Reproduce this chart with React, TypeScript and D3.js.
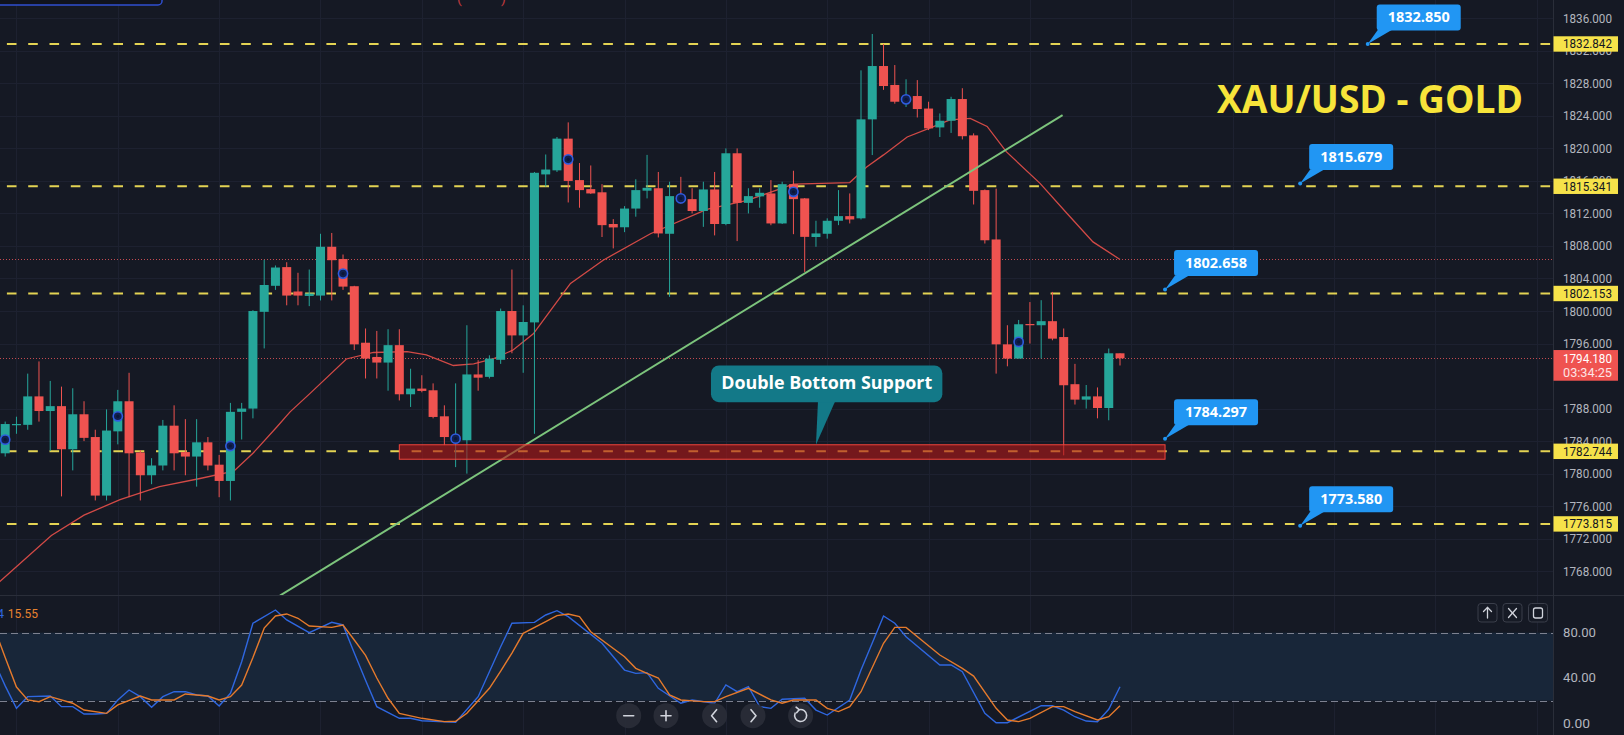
import React from 'react';
import * as d3 from 'd3';

const W = 1624;
const H = 735;

// ---------- candle data (index 0..99) ----------
const opens = [
  1782.5, 1786.0, 1786.0, 1789.5, 1787.7, 1788.3, 1783.0, 1787.3, 1784.5, 1777.3,
  1785.2, 1788.9, 1782.6, 1779.8, 1781.0, 1785.9, 1782.65, 1782.1, 1783.85, 1781.1,
  1779.1, 1787.6, 1788.0, 1799.9, 1803.1, 1805.4, 1802.4, 1801.85, 1801.9, 1807.9,
  1806.4, 1803.05, 1796.1, 1794.35, 1793.66, 1795.8, 1789.76, 1790.46, 1790.25, 1787.05,
  1784.3, 1784.1, 1792.2, 1791.9, 1794.0, 1800.0, 1797.0, 1798.6, 1816.8, 1817.3,
  1821.2, 1816.1, 1814.99, 1814.6, 1810.7, 1810.3, 1812.6, 1814.8, 1815.1, 1809.5,
  1814.2, 1813.76, 1812.3, 1814.95, 1810.7, 1819.4, 1813.3, 1814.1, 1814.46, 1810.77,
  1815.6, 1813.85, 1809.1, 1809.5, 1811.1, 1811.67, 1811.4, 1823.57, 1830.13, 1827.8,
  1825.7, 1826.44, 1824.9, 1822.58, 1823.4, 1826.07, 1821.6, 1814.87, 1808.8, 1795.9,
  1794.15, 1798.4, 1798.25, 1798.75, 1796.8, 1791.0, 1789.1, 1789.5, 1788.07, 1794.8,
];
const highs = [
  1786.4, 1787.0, 1792.3, 1793.8, 1791.4, 1790.7, 1790.5, 1788.9, 1785.4, 1787.9,
  1790.3, 1792.4, 1782.9, 1781.9, 1786.6, 1788.4, 1786.7, 1786.7, 1784.5, 1782.3,
  1788.7, 1788.7, 1800.1, 1806.3, 1805.6, 1806.0, 1804.7, 1805.1, 1809.5, 1809.6,
  1806.95, 1803.1, 1797.85, 1797.55, 1797.76, 1797.76, 1792.9, 1792.1, 1791.1, 1788.4,
  1791.1, 1798.25, 1793.95, 1794.55, 1800.3, 1805.1, 1800.7, 1817.1, 1819.25, 1821.4,
  1823.2, 1818.2, 1817.9, 1815.6, 1811.3, 1812.9, 1816.2, 1819.2, 1817.1, 1815.9,
  1816.5, 1815.1, 1815.9, 1817.1, 1820.0, 1820.0, 1815.1, 1815.1, 1816.1, 1815.9,
  1817.25, 1813.9, 1811.1, 1811.4, 1814.87, 1814.46, 1829.6, 1834.07, 1832.84, 1830.25,
  1828.5, 1828.4, 1825.74, 1824.3, 1826.35, 1827.4, 1821.85, 1814.95, 1815.05, 1798.25,
  1798.9, 1801.1, 1801.33, 1802.35, 1797.85, 1793.5, 1790.9, 1790.6, 1795.38, 1794.8,
];
const lows = [
  1782.1, 1784.9, 1785.4, 1786.4, 1782.8, 1777.2, 1780.4, 1784.0, 1776.7, 1776.7,
  1783.6, 1777.1, 1776.7, 1778.7, 1780.4, 1780.4, 1779.8, 1778.4, 1780.4, 1777.1,
  1776.7, 1784.2, 1786.8, 1795.4, 1802.6, 1800.7, 1800.7, 1800.6, 1801.3, 1801.3,
  1802.6, 1795.2, 1791.7, 1791.7, 1790.2, 1789.0, 1788.2, 1790.0, 1786.8, 1783.5,
  1780.8, 1780.0, 1790.2, 1791.7, 1793.5, 1794.8, 1792.4, 1784.9, 1815.3, 1817.1,
  1813.35, 1812.7, 1814.4, 1809.1, 1807.7, 1809.7, 1811.6, 1813.85, 1809.05, 1801.74,
  1813.2, 1812.0, 1810.35, 1809.3, 1810.55, 1808.6, 1812.0, 1812.7, 1810.55, 1810.7,
  1809.45, 1804.8, 1807.9, 1808.9, 1810.56, 1810.77, 1811.26, 1819.18, 1827.2, 1825.5,
  1825.1, 1823.8, 1822.25, 1821.4, 1821.9, 1821.1, 1813.1, 1808.3, 1792.3, 1793.2,
  1794.15, 1796.0, 1794.15, 1796.4, 1782.25, 1788.5, 1788.0, 1786.8, 1786.56, 1793.3,
];
const closes = [
  1786.1, 1786.1, 1789.5, 1787.7, 1788.3, 1783.0, 1787.3, 1784.4, 1777.3, 1785.3,
  1788.9, 1782.5, 1779.8, 1781.0, 1785.9, 1782.5, 1782.1, 1783.85, 1781.0, 1779.1,
  1787.6, 1788.0, 1800.0, 1803.2, 1805.35, 1801.9, 1801.9, 1802.15, 1807.9, 1806.25,
  1803.0, 1795.9, 1794.15, 1793.66, 1795.8, 1789.76, 1790.46, 1790.17, 1786.97, 1784.5,
  1784.5, 1792.2, 1791.8, 1794.15, 1800.0, 1797.0, 1798.65, 1817.0, 1817.4, 1821.2,
  1816.0, 1814.87, 1814.46, 1810.56, 1810.28, 1812.6, 1814.87, 1815.15, 1809.54, 1814.13,
  1813.8, 1812.3, 1814.95, 1810.7, 1819.4, 1813.3, 1814.13, 1814.54, 1810.77, 1815.6,
  1813.76, 1809.12, 1809.54, 1811.1, 1811.67, 1811.26, 1823.57, 1830.13, 1827.67, 1825.74,
  1826.0, 1824.84, 1822.46, 1823.4, 1826.07, 1821.5, 1814.78, 1808.7, 1795.9, 1794.15,
  1798.37, 1798.3, 1798.75, 1796.6, 1790.87, 1789.1, 1789.5, 1788.07, 1794.8, 1794.18,
];

// markers drawn every tenth candle (index, price)
const markerIndex = [0, 10, 20, 30, 40, 50, 60, 70, 80, 90];
const markerPrice = [1784.18, 1787.05, 1783.4, 1804.6, 1784.3, 1818.65, 1813.85, 1814.66, 1826.03, 1796.2];

// moving average: [index, price]
const maLine: [number, number][] = [
  [-0.5, 1766.7], [4.1, 1772.4], [7.0, 1774.9], [10.2, 1776.8], [13.7, 1778.4], [17.3, 1779.4],
  [20.3, 1780.3], [22.0, 1782.5], [24.1, 1785.7], [25.3, 1787.6], [27.1, 1789.9], [30.3, 1794.1],
  [32.7, 1794.9], [35.7, 1795.0], [37.4, 1794.6], [39.8, 1793.3], [41.6, 1793.5], [43.3, 1794.1],
  [45.1, 1795.2], [46.9, 1797.2], [48.5, 1800.2], [50.2, 1803.4], [53.1, 1806.25], [57.3, 1809.5],
  [62.3, 1812.5], [65.9, 1813.6], [70.0, 1815.6], [75.0, 1815.8], [76.5, 1817.7], [78.0, 1819.2],
  [80.1, 1821.4], [82.1, 1822.5], [83.9, 1823.5], [85.7, 1823.7], [87.2, 1822.7], [88.9, 1819.6],
  [91.9, 1815.7], [94.3, 1812.0], [96.6, 1808.5], [99.0, 1806.34],
];

// stochastic %K (blue) and %D (orange): [index, value]
const stochK: [number, number][] = [
  [-1, 55], [0, 33], [1, 13.2], [2, 23.5], [4, 24.1], [5, 14.7], [6, 14.7], [7, 8.2], [8, 8.2], [9, 8.8],
  [10, 20.6], [11, 29.4], [12, 23.5], [13, 14.1], [14, 23.5], [15, 27.9], [16, 27.9], [17, 25], [18, 24.1],
  [19, 15.3], [20, 26.5], [21, 54.4], [22, 88.3], [24, 100], [25, 91.2], [27, 80], [29, 89.1], [30, 86.8],
  [31, 62], [32, 38], [33, 14.7], [35, 4.4], [36, 4.4], [37, 2.3], [40, 0.9], [42, 23.5], [44, 67.6],
  [45, 88.3], [47, 89.1], [48, 95.6], [49, 99.4], [50, 94.1], [53, 70.6], [55, 47], [56, 44.1], [57, 44.7],
  [58, 30.9], [60, 17.7], [61, 20.6], [63, 17.7], [64, 33.8], [65, 27.9], [66, 32.3], [67, 14.7], [68, 13.2],
  [69, 21.2], [71, 22.1], [72, 11.7], [73, 7.3], [75, 20.6], [76, 47], [78, 94.7], [79, 88.3], [80, 76.4],
  [83, 51.5], [84, 51.5], [85, 45.5], [87, 8.8], [88, 0.5], [89, 0.5], [92, 15.5], [93, 15.5], [94, 11.7],
  [95, 5.8], [96, 2], [97, 1.4], [98, 12.4], [99, 32.3],
];
const stochD: [number, number][] = [
  [-1, 85], [0, 58], [1, 32], [2, 20.6], [3, 19.1], [4, 23.5], [6, 17.7], [7, 11.7], [9, 8.8], [10, 16.2],
  [12, 24.1], [13, 20.6], [15, 20.6], [16, 25.9], [18, 24.1], [19, 20.6], [20, 23.5], [21, 33.8], [22, 58],
  [23, 84], [24, 94.7], [25, 96.5], [26, 92.7], [27, 85.9], [29, 84.7], [30, 86.8], [31, 73.5], [32, 60],
  [33, 40], [34, 22.1], [35, 8.8], [37, 4.4], [39, 1.5], [40, 1.8], [41, 8.8], [43, 30.9], [44, 46], [45, 62],
  [46, 79.4], [48, 89.7], [49, 95], [50, 96.5], [51, 94.1], [52, 80.8], [55, 58.8], [56, 48.5], [57, 44],
  [58, 40], [59, 25], [60, 20.6], [62, 19.1], [63, 19.1], [64, 23.5], [66, 30.9], [68, 20.6], [69, 17.7],
  [70, 20.6], [72, 20.6], [73, 13.2], [74, 10.3], [75, 14.7], [76, 27.9], [78, 70.6], [79, 84.7], [80, 84.7],
  [83, 60.3], [85, 48.5], [86, 41.7], [88, 13.2], [89, 2.9], [90, 1.5], [91, 4.4], [93, 14.7], [94, 14.7],
  [95, 10.3], [97, 2.9], [98, 5.8], [99, 15.55],
];

const priceTicks = [1768, 1772, 1776, 1780, 1784, 1788, 1796, 1800, 1804, 1808, 1812, 1816, 1820, 1824, 1828, 1832, 1836];
const stochTicks = [80, 40, 0];
const levelPrices = [1832.842, 1815.341, 1802.153, 1782.744, 1773.815];
const calloutValues = [1832.85, 1815.679, 1802.658, 1784.297, 1773.58];
const calloutIndex = [121, 115, 103, 103, 115];
const supportZone = { from: 35, to: 103, top: 1783.55, bottom: 1781.77 };
const trend = { i0: 24.4, p0: 1765.0, i1: 93.9, p1: 1824.1 };
const currentPrice = 1794.18;
const maLast = 1806.34;
const countdown = '03:34:25';
const gridIndex = d3.range(1, 140, 9);

const BG = '#151924';
const UP = '#26a69a';
const DOWN = '#ef5350';

export default function App() {
  const plotRight = 1553;
  const split = 595;
  const x = d3.scaleLinear().domain([0, 99]).range([5.2, 1120]);
  const y = d3.scaleLinear().domain([1768, 1836]).range([571.2, 18.3]);
  const ys = d3.scaleLinear().domain([0, 100]).range([723.3, 610]);

  const maPath = d3.line<[number, number]>().x((d) => x(d[0])).y((d) => y(d[1]))(maLine) || '';
  const kPath = d3.line<[number, number]>().x((d) => x(d[0])).y((d) => ys(d[1]))(stochK) || '';
  const dPath = d3.line<[number, number]>().x((d) => x(d[0])).y((d) => ys(d[1]))(stochD) || '';

  const bodyW = 9;
  const axisFont = 'Roboto, "Liberation Sans", sans-serif';
  const boldFont = '"Open Sans", "Noto Sans", sans-serif';

  const ddTipX = x(72);
  const ddTipY = y(supportZone.top);

  const navX = [628.7, 666, 714.6, 753, 800.6];
  const navY = 715.7;

  return (
    <svg
      width={W}
      height={H}
      viewBox={`0 0 ${W} ${H}`}
      style={{ position: 'fixed', left: 0, top: 0, background: BG, display: 'block' }}
    >
      <defs>
        <clipPath id="mainClip">
          <rect x={0} y={0} width={plotRight} height={split} />
        </clipPath>
        <clipPath id="stochClip">
          <rect x={0} y={split + 1} width={plotRight} height={H - split - 1} />
        </clipPath>
      </defs>
      <rect x={0} y={0} width={W} height={H} fill={BG} />

      {/* grid */}
      <g stroke="#1d2130" strokeWidth={1}>
        {gridIndex.filter((i) => x(i) < plotRight).map((i) => (
          <line key={'vg' + i} x1={Math.round(x(i)) + 0.5} x2={Math.round(x(i)) + 0.5} y1={0} y2={H} />
        ))}
        {priceTicks.map((t) => (
          <line key={'hg' + t} x1={0} x2={plotRight} y1={Math.round(y(t)) + 0.5} y2={Math.round(y(t)) + 0.5} />
        ))}
      </g>

      {/* main pane */}
      <g clipPath="url(#mainClip)">
        {levelPrices.map((p) => (
          <line key={'lv' + p} x1={6.9} x2={plotRight} y1={y(p)} y2={y(p)} stroke="#e3d353" strokeWidth={2} strokeDasharray="9.6 11.7" />
        ))}
        <line x1={0} x2={plotRight} y1={Math.round(y(maLast)) + 0.5} y2={Math.round(y(maLast)) + 0.5} stroke="#e2545a" strokeWidth={1} strokeDasharray="1 2" opacity={0.85} />
        <line x1={0} x2={plotRight} y1={Math.round(y(currentPrice)) + 0.5} y2={Math.round(y(currentPrice)) + 0.5} stroke="#e2545a" strokeWidth={1} strokeDasharray="1 2" opacity={0.85} />

        <path d={maPath} fill="none" stroke="#d24a46" strokeWidth={1.3} />

        {opens.map((o, i) => {
          const c = closes[i];
          const col = c >= o ? UP : DOWN;
          const cx = x(i);
          const top = y(Math.max(o, c));
          const bot = y(Math.min(o, c));
          return (
            <g key={'c' + i}>
              <line x1={cx} x2={cx} y1={y(highs[i])} y2={y(lows[i])} stroke={col} strokeWidth={1} />
              <rect x={cx - bodyW / 2} y={top} width={bodyW} height={Math.max(1.2, bot - top)} fill={col} />
            </g>
          );
        })}

        {markerIndex.map((i, k) => (
          <g key={'m' + i}>
            <circle cx={x(i)} cy={y(markerPrice[k])} r={4.6} fill="#10204f" stroke="#2f5be0" strokeWidth={1.6} />
            <circle cx={x(i)} cy={y(markerPrice[k])} r={1.6} fill="#0b1638" />
          </g>
        ))}

        <line x1={x(trend.i0)} y1={y(trend.p0)} x2={x(trend.i1)} y2={y(trend.p1)} stroke="#7cc47c" strokeWidth={2} />

        <rect
          x={x(supportZone.from)}
          y={y(supportZone.top)}
          width={x(supportZone.to) - x(supportZone.from)}
          height={y(supportZone.bottom) - y(supportZone.top)}
          fill="rgba(175,24,24,0.62)"
          stroke="#f0443c"
          strokeWidth={1}
        />

        <polygon
          points={`${ddTipX + 2},${ddTipY - 43} ${ddTipX + 19},${ddTipY - 43} ${ddTipX},${ddTipY}`}
          fill="#137988"
        />
        <rect x={ddTipX - 105} y={ddTipY - 79.3} width={231.4} height={36.7} rx={8} fill="#137988" />
        <text
          x={ddTipX + 10.7}
          y={ddTipY - 55.3}
          textAnchor="middle"
          fill="#ffffff"
          fontFamily={boldFont}
          fontWeight={700}
          fontSize={17}
          textLength={211}
          lengthAdjust="spacingAndGlyphs"
        >
          Double Bottom Support
        </text>

        {calloutValues.map((v, k) => {
          const tx = x(calloutIndex[k]);
          const ty = y(v);
          return (
            <g key={'co' + k}>
              <polygon points={`${tx + 10},${ty - 14} ${tx + 24},${ty - 14} ${tx},${ty}`} fill="#2196f3" />
              <circle cx={tx} cy={ty} r={2} fill="#2196f3" />
              <rect x={tx + 9} y={ty - 39.5} width={84} height={26} rx={3} fill="#2196f3" />
              <text
                x={tx + 51}
                y={ty - 21.5}
                textAnchor="middle"
                fill="#ffffff"
                fontFamily={boldFont}
                fontWeight={700}
                fontSize={14}
                textLength={62}
                lengthAdjust="spacingAndGlyphs"
              >
                {v.toFixed(3)}
              </text>
            </g>
          );
        })}

        <text
          x={1217}
          y={113.3}
          fill="#f7e43a"
          fontFamily={boldFont}
          fontWeight={700}
          fontSize={39}
          textLength={306}
          lengthAdjust="spacingAndGlyphs"
        >
          XAU/USD - GOLD
        </text>

        <rect x={-4} y={-22} width={166} height={27} rx={4} fill="#10131d" stroke="#2f4fd0" strokeWidth={1.5} />
        <text x={457} y={3} fill="#c0393f" fontSize={14} fontFamily={axisFont}>(</text>
        <text x={501} y={3} fill="#c0393f" fontSize={14} fontFamily={axisFont}>)</text>
      </g>

      <line x1={0} x2={W} y1={split + 0.5} y2={split + 0.5} stroke="#2a2e39" strokeWidth={1} />
      <line x1={plotRight + 0.5} x2={plotRight + 0.5} y1={0} y2={H} stroke="#2a2e39" strokeWidth={1} />

      <g clipPath="url(#stochClip)">
        <rect x={0} y={ys(80)} width={plotRight} height={ys(20) - ys(80)} fill="#182639" />
        {[80, 20].map((v) => (
          <line key={'sl' + v} x1={0} x2={plotRight} y1={Math.round(ys(v)) + 0.5} y2={Math.round(ys(v)) + 0.5} stroke="#7d8190" strokeWidth={1} strokeDasharray="7 4" />
        ))}
        <path d={kPath} fill="none" stroke="#2f67e0" strokeWidth={1.4} />
        <path d={dPath} fill="none" stroke="#e57a2c" strokeWidth={1.4} />
        <text x={4} y={617.5} textAnchor="end" fill="#2f67e0" fontSize={12} fontFamily={axisFont}>4</text>
        <text x={7.8} y={617.5} fill="#e8822f" fontSize={12} fontFamily={axisFont}>15.55</text>

        {navX.map((cx, k) => (
          <circle key={'nb' + k} cx={cx} cy={navY} r={12.5} fill="#2a2e39" opacity={0.9} />
        ))}
        <g stroke="#d1d4dc" strokeWidth={1.6} fill="none" strokeLinecap="round" strokeLinejoin="round">
          <line x1={navX[0] - 5} x2={navX[0] + 5} y1={navY} y2={navY} />
          <line x1={navX[1] - 5} x2={navX[1] + 5} y1={navY} y2={navY} />
          <line x1={navX[1]} x2={navX[1]} y1={navY - 5} y2={navY + 5} />
          <path d={`M${navX[2] + 2},${navY - 6} L${navX[2] - 3},${navY} L${navX[2] + 2},${navY + 6}`} />
          <path d={`M${navX[3] - 2},${navY - 6} L${navX[3] + 3},${navY} L${navX[3] - 2},${navY + 6}`} />
          <path d={`M${navX[4] - 1.5},${navY - 6} A6,6 0 1,1 ${navX[4] - 5.5},${navY - 2.5}`} />
          <path d={`M${navX[4] - 4.5},${navY - 8.5} L${navX[4] - 1.5},${navY - 6} L${navX[4] - 4},${navY - 3}`} />
        </g>

        {[1478, 1503, 1528.5].map((bx, k) => (
          <rect key={'pb' + k} x={bx} y={603.5} width={19} height={18.5} rx={3} fill="#161a25" stroke="#3a3e4a" strokeWidth={1} />
        ))}
        <g stroke="#d1d4dc" strokeWidth={1.3} fill="none" strokeLinecap="round">
          <line x1={1487.5} x2={1487.5} y1={607.5} y2={618} />
          <path d="M1483.5,611.5 L1487.5,607.5 L1491.5,611.5" />
          <line x1={1508.5} x2={1516.5} y1={608.5} y2={617.5} />
          <line x1={1516.5} x2={1508.5} y1={608.5} y2={617.5} />
          <rect x={1533.5} y={608} width={9} height={10} rx={2} />
        </g>
      </g>

      {priceTicks.map((t) => (
        <text
          key={'pt' + t}
          x={1563}
          y={y(t) + 4.5}
          fill="#b2b5be"
          fontSize={13}
          fontFamily={axisFont}
          textLength={49}
          lengthAdjust="spacingAndGlyphs"
        >
          {t.toFixed(3)}
        </text>
      ))}
      {levelPrices.map((p) => (
        <g key={'lb' + p}>
          <rect x={plotRight + 0.5} y={y(p) - 7.7} width={64.5} height={15.4} fill="#f6e24a" />
          <text x={1563} y={y(p) + 4.5} fill="#131722" fontSize={13} fontFamily={axisFont} textLength={49} lengthAdjust="spacingAndGlyphs">
            {p.toFixed(3)}
          </text>
        </g>
      ))}
      <rect x={plotRight + 0.5} y={y(currentPrice) - 8.3} width={64.5} height={30.7} fill="#ef5350" />
      <text x={1563} y={y(currentPrice) + 4.6} fill="#ffffff" fontSize={13} fontFamily={axisFont} textLength={49} lengthAdjust="spacingAndGlyphs">
        {currentPrice.toFixed(3)}
      </text>
      <text x={1563} y={y(currentPrice) + 18.3} fill="#fde4e4" fontSize={13} fontFamily={axisFont} textLength={49} lengthAdjust="spacingAndGlyphs">
        {countdown}
      </text>

      {stochTicks.map((t) => (
        <text key={'st' + t} x={1563} y={ys(t) + 4.5} fill="#b2b5be" fontSize={13} fontFamily={axisFont} textLength={t === 0 ? 27 : 33} lengthAdjust="spacingAndGlyphs">
          {t.toFixed(2)}
        </text>
      ))}
    </svg>
  );
}
